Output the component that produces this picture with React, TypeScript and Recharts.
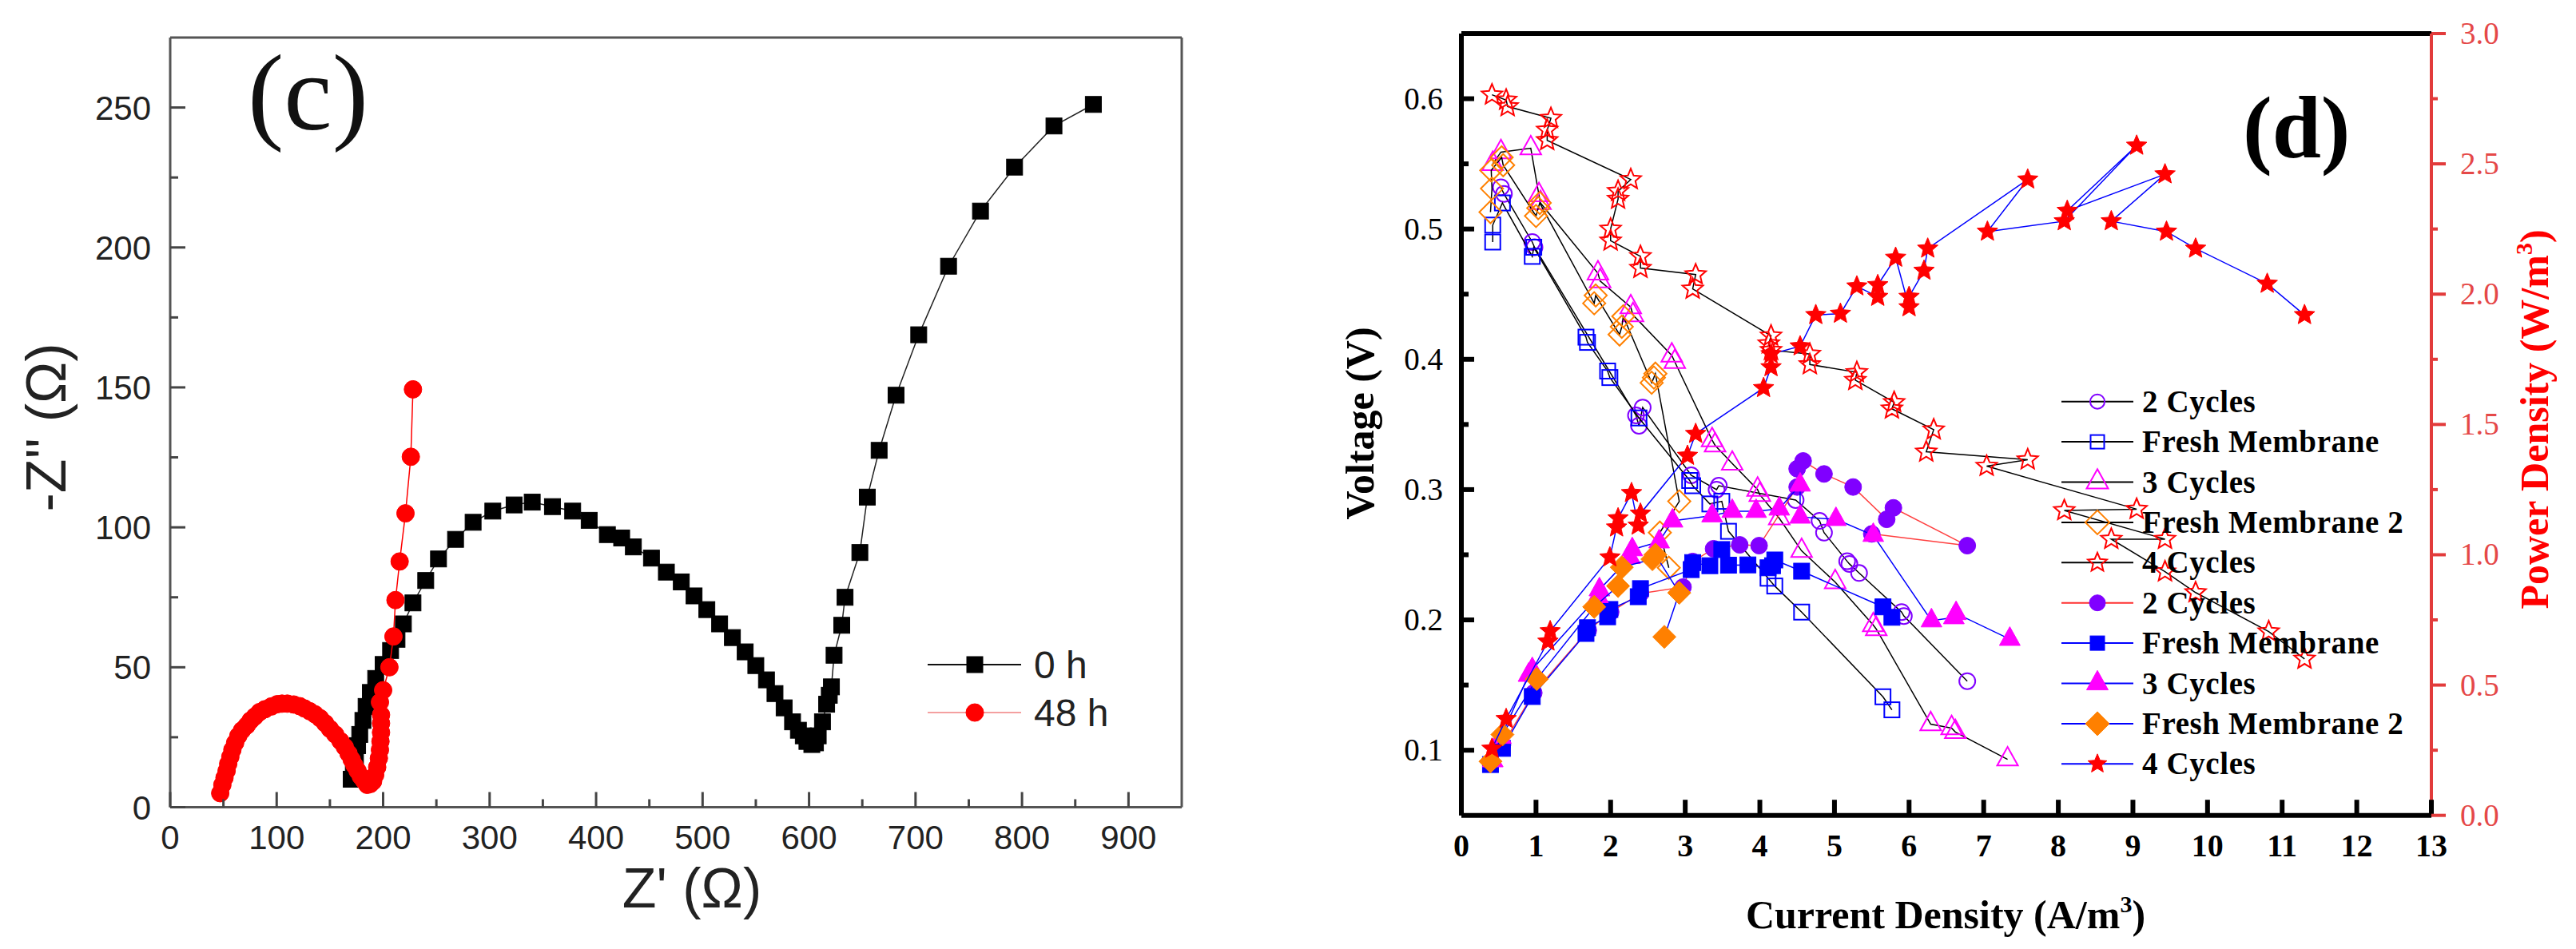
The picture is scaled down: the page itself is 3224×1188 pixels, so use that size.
import React from 'react';
import { ScatterChart, Scatter, XAxis, YAxis, ReferenceLine } from 'recharts';

// ---------------- Panel (c): Nyquist plot ----------------
const NYQ_0H: number[][] = [
  [170, 10], [172, 14], [174, 18], [176, 22], [178, 26], [181, 31], [184, 36], [188, 41], [193, 46], [200, 51],
  [207, 56], [213, 60], [219, 65.5], [228, 73], [240, 81], [252, 88.7], [268, 95.7], [284.5, 101.8], [303, 105.8],
  [323, 108], [340, 109], [359, 107.4], [378, 105.8], [393.5, 102.5], [410.6, 97.4], [424, 96.2], [435, 93],
  [452, 89], [466, 84], [480, 80.5], [492, 75.5], [504, 70.6], [516, 65.5], [528, 60.6], [540, 55.5], [550, 50.6],
  [560, 45.5], [568, 40.6], [576.6, 35.5], [584.5, 30.5], [590, 27.5], [594.6, 25.5], [598, 23.5], [602.6, 22.4],
  [606, 23], [608.6, 25.5], [612.6, 30.5], [616.5, 36.8], [619, 40], [621, 43], [623.5, 54.3], [630.7, 65],
  [633.8, 75], [647.7, 91], [654.7, 110.8], [665.8, 127.5], [681.7, 147.2], [703, 168.8], [731, 193.3],
  [761, 213], [793, 228.7], [830, 243.4], [867, 251.1],
];
const NYQ_48H: number[][] = [
  [47, 5], [49, 8], [51, 10.5], [53, 13], [54.5, 15.5], [56.5, 18], [58.4, 20.5], [61, 23], [64, 25.5], [67.5, 27.5],
  [71.9, 29.2], [75.5, 31], [79.5, 32.4], [84, 34], [89, 35], [95, 36], [100.6, 36.8], [105, 37], [110, 37],
  [116, 36.7], [121.6, 36.1], [126, 35.3], [131, 34.3], [136, 33.2], [140.8, 31.8], [145.5, 30], [150, 28],
  [155, 26], [160, 23.6], [164, 21.5], [167.5, 19.2], [170.5, 17], [173, 15], [176, 13], [179, 11], [182, 9.5],
  [185, 8], [188, 8.3], [190.5, 9.2], [192.5, 11.5], [194.4, 14.3], [196, 17.5], [197, 20.5], [197.5, 23.5],
  [198, 26.7], [198, 30], [198, 33], [197, 37.5], [200, 41.8], [205.9, 50], [209.7, 61], [211.6, 74],
  [215.5, 87.8], [221, 105], [226, 125.2], [228, 149.3],
];
const C_X_TICKS = [0, 50, 100, 150, 200, 250, 300, 350, 400, 450, 500, 550, 600, 650, 700, 750, 800, 850, 900];
const C_Y_TICKS = [0, 25, 50, 75, 100, 125, 150, 175, 200, 225, 250];
const C_LEGEND = ['0 h', '48 h'];

// ---------------- Panel (d): polarization / power curves ----------------
const D_X_TICKS = [0, 1, 2, 3, 4, 5, 6, 7, 8, 9, 10, 11, 12, 13];
const D_V_TICKS = [0.1, 0.15, 0.2, 0.25, 0.3, 0.35, 0.4, 0.45, 0.5, 0.55, 0.6];
const D_P_TICKS = [0, 0.25, 0.5, 0.75, 1, 1.25, 1.5, 1.75, 2, 2.25, 2.5, 2.75, 3];
const D_NAMES = ['2 Cycles', 'Fresh Membrane', '3 Cycles', 'Fresh Membrane 2', '4 Cycles'];

// Voltage (open symbols, left axis)
const V_2C: number[][] = [
  [0.53, 0.532], [0.57, 0.527], [0.95, 0.49], [0.98, 0.486], [2.34, 0.357], [2.38, 0.349], [2.43, 0.363],
  [3.08, 0.311], [3.42, 0.3], [3.45, 0.303], [4.48, 0.292], [4.8, 0.276], [4.86, 0.267], [5.17, 0.245],
  [5.2, 0.243], [5.33, 0.236], [5.9, 0.206], [5.93, 0.203], [6.78, 0.153],
];
const V_FM: number[][] = [
  [0.42, 0.49], [0.42, 0.503], [0.55, 0.52], [0.95, 0.479], [0.97, 0.486], [1.67, 0.417], [1.69, 0.413],
  [1.96, 0.391], [1.99, 0.386], [2.38, 0.355], [3.06, 0.307], [3.1, 0.303], [3.33, 0.289], [3.49, 0.291],
  [3.58, 0.268], [4.11, 0.232], [4.2, 0.226], [4.56, 0.206], [5.65, 0.141], [5.77, 0.131],
];
const V_3C: number[][] = [
  [0.42, 0.55], [0.53, 0.559], [0.93, 0.562], [1.04, 0.526], [1.06, 0.52], [1.83, 0.466], [1.86, 0.46],
  [2.27, 0.44], [2.3, 0.434], [2.82, 0.403], [2.86, 0.398], [3.36, 0.338], [3.4, 0.334], [3.63, 0.32],
  [3.97, 0.3], [4.0, 0.296], [4.26, 0.278], [4.56, 0.253], [5.01, 0.229], [5.52, 0.196], [5.56, 0.193],
  [6.29, 0.12], [6.57, 0.117], [6.62, 0.114], [7.32, 0.093],
];
const V_FM2: number[][] = [
  [0.39, 0.513], [0.41, 0.531], [0.4, 0.545], [0.54, 0.555], [0.56, 0.549], [1.0, 0.51], [1.03, 0.516],
  [1.05, 0.52], [1.78, 0.443], [1.8, 0.449], [2.12, 0.419], [2.15, 0.425], [2.17, 0.433], [2.55, 0.382],
  [2.58, 0.386], [2.6, 0.389], [2.92, 0.291], [2.66, 0.267], [2.78, 0.24],
];
const V_4C: number[][] = [
  [0.41, 0.603], [0.6, 0.599], [0.62, 0.594], [1.2, 0.585], [1.15, 0.576], [1.15, 0.568], [2.27, 0.538],
  [2.1, 0.529], [2.1, 0.523], [2.0, 0.5], [2.0, 0.491], [2.4, 0.479], [2.4, 0.47], [3.14, 0.465], [3.1, 0.454],
  [4.15, 0.418], [4.12, 0.412], [4.15, 0.407], [4.67, 0.404], [4.67, 0.396], [5.3, 0.39], [5.28, 0.384],
  [5.8, 0.367], [5.77, 0.362], [6.33, 0.346], [6.23, 0.329], [7.59, 0.323], [7.04, 0.318], [9.05, 0.285],
  [8.08, 0.284], [9.43, 0.262], [8.71, 0.262], [9.43, 0.237], [9.84, 0.221], [10.82, 0.191], [11.3, 0.17],
];
// Power density (filled symbols, right axis)
const P_2C: number[][] = [
  [0.4, 0.2], [0.55, 0.27], [0.97, 0.47], [1.7, 0.71], [2.0, 0.78], [2.4, 0.851], [2.97, 0.876], [3.1, 0.974],
  [3.38, 1.023], [3.73, 1.038], [3.99, 1.035], [4.5, 1.26], [4.5, 1.33], [4.58, 1.36], [4.86, 1.31],
  [5.25, 1.26], [5.7, 1.136], [5.79, 1.18], [6.78, 1.035], [5.5, 1.08],
];
const P_FM: number[][] = [
  [0.39, 0.195], [0.55, 0.257], [0.95, 0.456], [1.67, 0.698], [1.69, 0.72], [1.96, 0.762], [1.99, 0.79],
  [2.37, 0.839], [2.4, 0.87], [3.08, 0.943], [3.1, 0.97], [3.33, 0.958], [3.49, 1.02], [3.58, 0.96],
  [3.84, 0.961], [4.11, 0.95], [4.17, 0.958], [4.2, 0.98], [4.56, 0.937], [5.65, 0.8], [5.77, 0.76],
];
const P_3C: number[][] = [
  [0.42, 0.21], [0.53, 0.3], [0.9, 0.538], [0.95, 0.56], [1.83, 0.84], [1.85, 0.866], [2.26, 0.99],
  [2.29, 1.02], [2.65, 1.05], [2.83, 1.13], [3.36, 1.15], [3.63, 1.167], [3.95, 1.167], [4.26, 1.176],
  [4.54, 1.268], [4.54, 1.145], [5.02, 1.136], [5.52, 1.075], [6.3, 0.747], [6.6, 0.759], [6.63, 0.775],
  [7.35, 0.676],
];
const P_FM2: number[][] = [
  [0.39, 0.207], [0.55, 0.31], [1.01, 0.523], [1.78, 0.8], [2.1, 0.88], [2.15, 0.952], [2.56, 0.983],
  [2.6, 1.0], [2.92, 0.854], [2.72, 0.685],
];
const P_4C: number[][] = [
  [0.41, 0.256], [0.6, 0.37], [1.16, 0.667], [1.19, 0.707], [1.99, 0.99], [2.08, 1.105], [2.1, 1.14],
  [2.28, 1.237], [2.37, 1.112], [2.4, 1.158], [3.03, 1.38], [3.14, 1.464], [4.05, 1.64], [4.15, 1.72],
  [4.15, 1.77], [4.54, 1.8], [4.75, 1.92], [5.08, 1.925], [5.3, 2.03], [5.58, 1.99], [5.58, 2.035],
  [5.82, 2.14], [6.0, 1.95], [6.0, 1.99], [6.2, 2.09], [6.25, 2.175], [7.59, 2.44], [7.05, 2.24],
  [8.08, 2.28], [9.05, 2.57], [8.12, 2.32], [9.43, 2.46], [8.71, 2.28], [9.45, 2.24], [9.84, 2.175],
  [10.8, 2.04], [11.3, 1.92],
];

const SERIF = "'Liberation Serif', 'Times New Roman', Times, serif";
const SANS = "'Liberation Sans', Arial, Helvetica, sans-serif";

const PURPLE = '#8000ff';
const BLUE = '#0000ff';
const MAGENTA = '#ff00ff';
const ORANGE = '#ff8000';
const RED = '#ff0000';

const toPts = (a: number[][]) => a.map(([x, y]) => ({ x, y }));

type Shape = 'circle' | 'square' | 'triangle' | 'diamond' | 'star';

function mk(shape: Shape, cx: number, cy: number, size: number, color: string, filled: boolean, sw = 2) {
  if (cx == null || cy == null || isNaN(cx) || isNaN(cy)) return <g />;
  const common = { fill: filled ? color : 'none', stroke: color, strokeWidth: filled ? 1 : sw };
  const r = size / 2;
  switch (shape) {
    case 'circle':
      return <circle cx={cx} cy={cy} r={r} {...common} />;
    case 'square':
      return <rect x={cx - r} y={cy - r} width={size} height={size} {...common} />;
    case 'triangle': {
      const h = size * 0.9;
      return <polygon points={`${cx},${cy - (h * 2) / 3} ${cx + r},${cy + h / 3} ${cx - r},${cy + h / 3}`} {...common} />;
    }
    case 'diamond':
      return <polygon points={`${cx},${cy - r} ${cx + r},${cy} ${cx},${cy + r} ${cx - r},${cy}`} {...common} />;
    case 'star': {
      const pts: string[] = [];
      for (let i = 0; i < 10; i++) {
        const a = -Math.PI / 2 + (i * Math.PI) / 5;
        const rr = i % 2 === 0 ? r : r * 0.45;
        pts.push(`${cx + rr * Math.cos(a)},${cy + rr * Math.sin(a)}`);
      }
      return <polygon points={pts.join(' ')} {...common} />;
    }
  }
  return <g />;
}

type DSeries = {
  name: string;
  data: number[][];
  axis: 'left' | 'right';
  shape: Shape;
  color: string;
  filled: boolean;
  line: string;
  size: number;
  legendSize: number;
};

const D_SERIES: DSeries[] = [
  { name: D_NAMES[0], data: V_2C, axis: 'left', shape: 'circle', color: PURPLE, filled: false, line: '#000', size: 20, legendSize: 18 },
  { name: D_NAMES[1], data: V_FM, axis: 'left', shape: 'square', color: BLUE, filled: false, line: '#000', size: 19, legendSize: 17 },
  { name: D_NAMES[2], data: V_3C, axis: 'left', shape: 'triangle', color: MAGENTA, filled: false, line: '#000', size: 26, legendSize: 27 },
  { name: D_NAMES[3], data: V_FM2, axis: 'left', shape: 'diamond', color: ORANGE, filled: false, line: '#000', size: 28, legendSize: 30 },
  { name: D_NAMES[4], data: V_4C, axis: 'left', shape: 'star', color: RED, filled: false, line: '#000', size: 27, legendSize: 25 },
  { name: D_NAMES[0], data: P_2C, axis: 'right', shape: 'circle', color: PURPLE, filled: true, line: '#ff4040', size: 21, legendSize: 20 },
  { name: D_NAMES[1], data: P_FM, axis: 'right', shape: 'square', color: BLUE, filled: true, line: BLUE, size: 20, legendSize: 18 },
  { name: D_NAMES[2], data: P_3C, axis: 'right', shape: 'triangle', color: MAGENTA, filled: true, line: BLUE, size: 26, legendSize: 27 },
  { name: D_NAMES[3], data: P_FM2, axis: 'right', shape: 'diamond', color: ORANGE, filled: true, line: BLUE, size: 29, legendSize: 30 },
  { name: D_NAMES[4], data: P_4C, axis: 'right', shape: 'star', color: RED, filled: true, line: BLUE, size: 27, legendSize: 25 },
];

// ---------- ticks ----------
const CTickX = (props: any) => {
  const { x, y, payload } = props;
  const v = Number(payload.value);
  const major = v % 100 === 0;
  return (
    <g>
      <line x1={x} x2={x} y1={y} y2={y - (major ? 19 : 10)} stroke="#444" strokeWidth={3} />
      {major ? (
        <text x={x} y={y + 52} textAnchor="middle" fontFamily={SANS} fontSize={42} fill="#222">
          {v}
        </text>
      ) : null}
    </g>
  );
};
const CTickY = (props: any) => {
  const { x, y, payload } = props;
  const v = Number(payload.value);
  const major = v % 50 === 0;
  return (
    <g>
      <line x1={x} x2={x + (major ? 19 : 10)} y1={y} y2={y} stroke="#444" strokeWidth={3} />
      {major ? (
        <text x={x - 24} y={y + 15} textAnchor="end" fontFamily={SANS} fontSize={42} fill="#222">
          {v}
        </text>
      ) : null}
    </g>
  );
};
const DTickX = (props: any) => {
  const { x, y, payload } = props;
  const v = Number(payload.value);
  return (
    <g>
      <line x1={x} x2={x} y1={y} y2={y - 19.5} stroke="#000" strokeWidth={6} />
      <text x={x} y={y + 51} textAnchor="middle" fontFamily={SERIF} fontWeight="bold" fontSize={40} fill="#000">
        {v}
      </text>
    </g>
  );
};
const DTickL = (props: any) => {
  const { x, y, payload } = props;
  const v = Number(payload.value);
  const major = Math.round(v * 100) % 10 === 0;
  return (
    <g>
      <line x1={x} x2={x + (major ? 16 : 9)} y1={y} y2={y} stroke="#000" strokeWidth={6} />
      {major ? (
        <text x={x - 23} y={y + 13} textAnchor="end" fontFamily={SERIF} fontSize={39} fill="#000">
          {v.toFixed(1)}
        </text>
      ) : null}
    </g>
  );
};
const DTickR = (props: any) => {
  const { x, y, payload } = props;
  const v = Number(payload.value);
  const major = Math.round(v * 100) % 50 === 0;
  return (
    <g>
      <line x1={x} x2={x + (major ? 18 : 8)} y1={y} y2={y} stroke="#e23b3b" strokeWidth={4} />
      {major ? (
        <text x={x + 36} y={y + 13} textAnchor="start" fontFamily={SERIF} fontSize={39} fill="#e54848">
          {v.toFixed(1)}
        </text>
      ) : null}
    </g>
  );
};

function PanelC() {
  return (
    <ScatterChart width={1560} height={1188} margin={{ top: 47, right: 81, bottom: 0, left: 0 }}>
      <XAxis
        type="number"
        dataKey="x"
        domain={[0, 950]}
        ticks={C_X_TICKS}
        interval={0}
        height={177.5}
        tickSize={0}
        tickMargin={0}
        tickLine={false}
        axisLine={{ stroke: '#555', strokeWidth: 3 }}
        tick={CTickX}
      />
      <YAxis
        type="number"
        dataKey="y"
        domain={[0, 275]}
        ticks={C_Y_TICKS}
        interval={0}
        width={213}
        tickSize={0}
        tickMargin={0}
        tickLine={false}
        axisLine={{ stroke: '#555', strokeWidth: 3 }}
        tick={CTickY}
      />
      <ReferenceLine y={275} stroke="#555" strokeWidth={3} ifOverflow="visible" />
      <ReferenceLine x={950} stroke="#555" strokeWidth={3} ifOverflow="visible" />
      <Scatter
        name={C_LEGEND[0]}
        data={toPts(NYQ_0H)}
        isAnimationActive={false}
        line={{ stroke: '#222', strokeWidth: 1.5 }}
        shape={(p: any) => mk('square', p.cx, p.cy, 20, '#000', true)}
      />
      <Scatter
        name={C_LEGEND[1]}
        data={toPts(NYQ_48H)}
        isAnimationActive={false}
        line={{ stroke: '#ff0000', strokeWidth: 1.5 }}
        shape={(p: any) => mk('circle', p.cx, p.cy, 22, '#ff0000', true)}
      />
    </ScatterChart>
  );
}

function PanelD() {
  return (
    <ScatterChart width={1664} height={1188} margin={{ top: 42, right: 0, bottom: 0, left: 0 }}>
      <XAxis
        type="number"
        dataKey="x"
        domain={[0, 13]}
        ticks={D_X_TICKS}
        interval={0}
        height={167.3}
        tickSize={0}
        tickMargin={0}
        tickLine={false}
        axisLine={{ stroke: '#000', strokeWidth: 6 }}
        tick={DTickX}
      />
      <YAxis
        yAxisId="left"
        type="number"
        dataKey="y"
        domain={[0.05, 0.65]}
        ticks={D_V_TICKS}
        interval={0}
        width={269}
        tickSize={0}
        tickMargin={0}
        tickLine={false}
        axisLine={{ stroke: '#000', strokeWidth: 6 }}
        tick={DTickL}
      />
      <YAxis
        yAxisId="right"
        orientation="right"
        type="number"
        dataKey="y"
        domain={[0, 3]}
        ticks={D_P_TICKS}
        interval={0}
        width={181}
        tickSize={0}
        tickMargin={0}
        tickLine={false}
        axisLine={{ stroke: '#e23b3b', strokeWidth: 4 }}
        tick={DTickR}
      />
      <ReferenceLine yAxisId="left" y={0.65} stroke="#000" strokeWidth={6} ifOverflow="visible" />
      {D_SERIES.map((s, i) => (
        <Scatter
          key={i}
          name={s.name}
          yAxisId={s.axis}
          data={toPts(s.data)}
          isAnimationActive={false}
          line={{ stroke: s.line, strokeWidth: 1.5 }}
          shape={(p: any) => mk(s.shape, p.cx, p.cy, s.size, s.color, s.filled)}
        />
      ))}
    </ScatterChart>
  );
}

function Overlay() {
  const cRows = [
    { label: C_LEGEND[0], y: 832, line: '#111', shape: 'square' as Shape, color: '#000', size: 20 },
    { label: C_LEGEND[1], y: 892, line: '#f4a0a0', shape: 'circle' as Shape, color: '#ff0000', size: 22 },
  ];
  return (
    <svg width={3224} height={1188} style={{ position: 'absolute', left: 0, top: 0, pointerEvents: 'none' }}>
      {/* Panel c texts */}
      <text x={310} y={162} fontFamily={SERIF} fontSize={136} fill="#111">(c)</text>
      <text transform="translate(82,535) rotate(-90)" textAnchor="middle" fontFamily={SANS} fontSize={70} fill="#222">
        -Z'' (Ω)
      </text>
      <text x={866} y={1136} textAnchor="middle" fontFamily={SANS} fontSize={70} fill="#222">
        Z' (Ω)
      </text>
      {cRows.map((r, i) => (
        <g key={i}>
          <line x1={1161} x2={1278} y1={r.y} y2={r.y} stroke={r.line} strokeWidth={2} />
          {mk(r.shape, 1220, r.y, r.size, r.color, true)}
          <text x={1294} y={r.y + 17} fontFamily={SANS} fontSize={48} fill="#222">
            {r.label}
          </text>
        </g>
      ))}

      {/* Panel d texts */}
      <text x={2807} y={197} fontFamily={SERIF} fontWeight="bold" fontSize={110} fill="#000">(d)</text>
      <text transform="translate(1719,530) rotate(-90)" textAnchor="middle" fontFamily={SERIF} fontWeight="bold" fontSize={50} fill="#000">
        Voltage (V)
      </text>
      <text x={2435} y={1162} textAnchor="middle" fontFamily={SERIF} fontWeight="bold" fontSize={50} fill="#000">
        Current Density (A/m<tspan dy={-20} fontSize={30}>3</tspan>
        <tspan dy={20}>)</tspan>
      </text>
      <text transform="translate(3189,525) rotate(-90)" textAnchor="middle" fontFamily={SERIF} fontWeight="bold" fontSize={50} fill="#ff0000">
        Power Density (W/m<tspan dy={-20} fontSize={30}>3</tspan>
        <tspan dy={20}>)</tspan>
      </text>
      {D_SERIES.map((s, i) => {
        const y = 502.7 + 50.4 * i;
        return (
          <g key={i}>
            <line x1={2580} x2={2670} y1={y} y2={y} stroke={s.line === '#ff4040' ? '#ff3030' : s.line} strokeWidth={2} />
            {mk(s.shape, 2625, y, s.legendSize, s.color, s.filled)}
            <text x={2681} y={y + 13} fontFamily={SERIF} fontWeight="bold" fontSize={39} letterSpacing={0.6} fill="#000">
              {s.name}
            </text>
          </g>
        );
      })}
    </svg>
  );
}

export default function App() {
  return (
    <div style={{ position: 'absolute', left: 0, top: 0, width: 3224, height: 1188, background: '#fff', overflow: 'hidden' }}>
      <div style={{ position: 'absolute', left: 0, top: 0 }}>
        <PanelC />
      </div>
      <div style={{ position: 'absolute', left: 1560, top: 0 }}>
        <PanelD />
      </div>
      <Overlay />
    </div>
  );
}
